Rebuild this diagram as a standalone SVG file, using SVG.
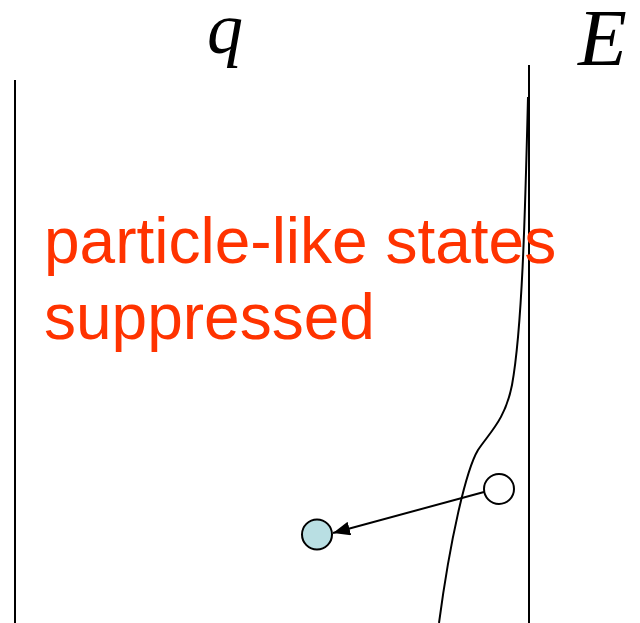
<svg xmlns="http://www.w3.org/2000/svg" width="640" height="623" viewBox="0 0 640 623">
<defs>
<style>
.ln{stroke:#000;stroke-width:2;fill:none}
.lbl{font-family:"Liberation Serif","Times New Roman",serif;font-style:italic;fill:#000}
.red{font-family:"Liberation Sans",Arial,sans-serif;font-size:64px;fill:#ff3300}
.st{stroke:#000;stroke-width:2}
</style>
<marker id="ah" viewBox="0 0 17 14" refX="17" refY="7" markerWidth="17" markerHeight="14" markerUnits="userSpaceOnUse" orient="auto">
<path d="M0,0 L17,7 L0,14 z" fill="#000"/>
</marker>
</defs>
<rect width="640" height="623" fill="#fff"/>
<g id="axes">
<line class="ln" x1="15" y1="80" x2="15" y2="623"/>
<line class="ln" x1="529" y1="65" x2="529" y2="623"/>
</g>
<g id="labels">
<text class="lbl" x="207" y="53" font-size="72">q</text>
<text class="lbl" x="578" y="65" font-size="80">E</text>
<text class="red" x="44" y="263">particle-like states</text>
<text class="red" x="44" y="339">suppressed</text>
</g>
<g id="curve">
<path class="ln" d="M528,97 C525,220 522,330 512,385 C505,420 490,432 478,450 C466,470 450,540 439,623"/>
</g>
<g id="connectors">
<line class="ln" x1="484" y1="492" x2="333" y2="533" marker-end="url(#ah)"/>
</g>
<g id="open-state">
<circle class="st" cx="499" cy="489" r="15" fill="#fff"/>
</g>
<g id="filled-state">
<circle class="st" cx="317" cy="534.5" r="15" fill="#b9dfe3"/>
</g>
</svg>
